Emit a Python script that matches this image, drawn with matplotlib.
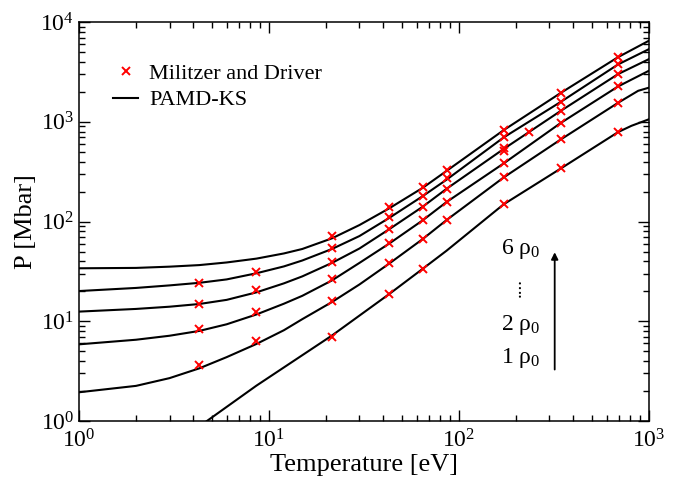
import numpy as np
import matplotlib
matplotlib.use('Agg')
import matplotlib.pyplot as plt

plt.rcParams['font.family'] = ['Liberation Serif', 'DejaVu Serif']
plt.rcParams['mathtext.fontset'] = 'stix'

# PAMD-KS curves, one per density (1 rho0 ... 6 rho0)
T_grid = [1, 2, 3, 4.3, 6, 8.6, 12, 15, 21.5, 30, 43.1, 64.6, 86.2, 172.3, 344.7, 689.4, 1000]
P_6rho = [34.0, 34.3, 35.3, 36.6, 38.9, 42.5, 47.9, 53.1, 67.9, 92.3, 136, 218, 322, 826, 1955, 4457, 6500]
P_5rho = [20.1, 21.6, 22.9, 24.3, 26.3, 30.3, 35.5, 40.7, 53.1, 71.6, 109, 180, 263, 698, 1589, 3767, 5350]
P_4rho = [12.5, 13.3, 14.0, 14.9, 16.4, 19.5, 24.0, 28.2, 38.5, 53.7, 84, 141, 213, 535, 1291, 3013, 4250]
P_3rho = [5.87, 6.53, 7.16, 8.0, 9.33, 11.7, 15.0, 18.0, 25.7, 38.5, 60.3, 103, 157, 383, 977, 2265, 3250]
T_2rho = [1, 2, 3, 4.3, 6, 8.6, 12, 15, 21.5, 30, 43.1, 64.6, 86.2, 172.3, 344.7, 689.4, 880, 1000]
P_2rho = [1.94, 2.25, 2.69, 3.37, 4.37, 5.92, 8.13, 10.5, 15.6, 23.4, 38.0, 66.8, 103.5, 277, 667, 1553, 2050, 2200]
T_1rho = [4.3, 8.6, 21.5, 43.1, 64.6, 86.2, 172.3, 344.7, 689.4, 811, 1000]
P_1rho = [0.88, 2.26, 7.2, 18.8, 33.6, 51, 149, 341, 789, 913, 1060]

# Militzer and Driver points
md_T = [4.3] * 4 + [8.6] * 4 + [21.5] * 6 + [43.1] * 6 + [64.6] * 6 + [86.2] * 5 \
    + [172.3] * 7 + [233] + [344.7] * 6 + [689.4] * 6
md_P = [24.3, 14.9, 8.30, 3.62,
        31.0, 20.6, 12.4, 6.29,
        71.1, 54.2, 39.3, 26.5, 16.1, 6.90,
        138.7, 110.2, 84.1, 60.4, 38.6, 18.8,
        222, 180, 141, 103, 66.8, 33.6,
        328, 271, 213, 157, 103.5,
        826, 698, 550, 513, 383, 277, 149,
        789,
        1955, 1589, 1291, 977, 667, 341,
        4457, 3767, 3013, 2265, 1553, 789]

fig = plt.figure(figsize=(6.8, 4.82), dpi=100)
ax = fig.add_axes([0.116, 0.1266, 0.838, 0.8274])

curves = [(T_grid, P_6rho), (T_grid, P_5rho), (T_grid, P_4rho),
          (T_grid, P_3rho), (T_2rho, P_2rho), (T_1rho, P_1rho)]
for i, (t, p) in enumerate(curves):
    ax.plot(t, p, color='black', lw=1.5, label='PAMD-KS' if i == 0 else None)
ax.plot(md_T, md_P, ls='none', marker='x', color='red', ms=5.5, mew=1.4,
        label='Militzer and Driver')

ax.set_xscale('log')
ax.set_yscale('log')
ax.set_xlim(1, 1000)
ax.set_ylim(1, 1e4)
ax.tick_params(which='both', direction='in', top=True, right=True, labelsize=17, width=1)
ax.tick_params(which='major', length=8)
ax.tick_params(which='minor', length=4.5)
ax.tick_params(axis='x', pad=6)
for s in ax.spines.values():
    s.set_linewidth(1.1)

ax.set_xlabel('Temperature [eV]', fontsize=19, labelpad=1)
ax.set_ylabel('P [Mbar]', fontsize=19, labelpad=2)

h, l = ax.get_legend_handles_labels()
ax.legend(h[::-1], l[::-1], loc='upper left', bbox_to_anchor=(0.045, 0.92),
          frameon=False, fontsize=16, handlelength=1.1, handletextpad=0.5,
          labelspacing=0.28, borderaxespad=0)

# density annotation
ax.text(0.741, 0.43, r'6 $\mathregular{\rho_0}$', transform=ax.transAxes, fontsize=17, va='center')
ax.text(0.741, 0.24, r'2 $\mathregular{\rho_0}$', transform=ax.transAxes, fontsize=17, va='center')
ax.text(0.741, 0.158, r'1 $\mathregular{\rho_0}$', transform=ax.transAxes, fontsize=17, va='center')
ax.text(0.767, 0.335, '....', transform=ax.transAxes, fontsize=14, rotation=90,
        ha='center', va='center')
ax.annotate('', xy=(0.835, 0.43), xytext=(0.835, 0.122), xycoords='axes fraction',
            arrowprops=dict(arrowstyle='-|>', color='black', lw=1.3, mutation_scale=10))

fig.savefig('out.png', dpi=100)
